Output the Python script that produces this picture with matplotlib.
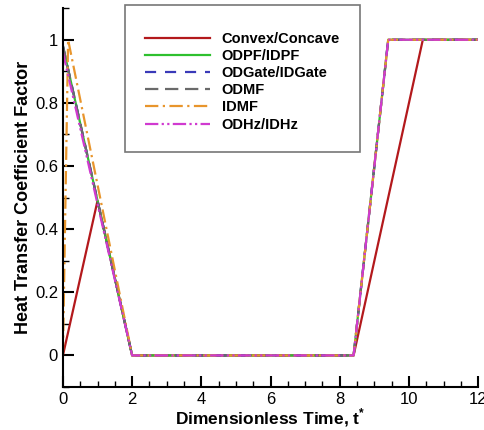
import matplotlib
matplotlib.use("Agg")
import matplotlib.pyplot as plt
from matplotlib.patches import Rectangle
from matplotlib.ticker import MultipleLocator, FormatStrFormatter

plt.rcParams["font.family"] = ["Liberation Sans", "DejaVu Sans"]
plt.rcParams["mathtext.fontset"] = "custom"
plt.rcParams["mathtext.rm"] = "Liberation Sans"
plt.rcParams["mathtext.bf"] = "Liberation Sans:bold"

# series (t*, factor)
t_convex = [0, 1, 2, 8.4, 10.4, 12]
f_convex = [0, 0.49, 0, 0, 1, 1]

t_odpf = [0, 2, 8.4, 9.4, 12]
f_odpf = [0.98, 0, 0, 1, 1]

t_odgate = [0, 2, 8.4, 9.4, 12]
f_odgate = [0.98, 0, 0, 1, 1]

t_odmf = [0, 2, 8.4, 9.4, 12]
f_odmf = [0.98, 0, 0, 1, 1]

t_idmf = [0, 0.15, 2, 8.4, 9.4, 12]
f_idmf = [0, 1, 0, 0, 1, 1]

t_odhz = [0, 2, 8.4, 9.4, 12]
f_odhz = [0.96, 0, 0, 1, 1]

fig = plt.figure(figsize=(4.84, 4.30), dpi=100)
ax = fig.add_axes([0.130, 0.100, 0.858, 0.881])

ax.plot(t_convex, f_convex, color="#b3191c", lw=1.6, ls="-", label="Convex/Concave")
ax.plot(t_odpf, f_odpf, color="#2ec02e", lw=1.6, ls="-", label="ODPF/IDPF")
ax.plot(t_odgate, f_odgate, color="#3a3ab8", lw=1.6, ls=(0, (5, 4)), label="ODGate/IDGate")
ax.plot(t_odmf, f_odmf, color="#6a6a6a", lw=1.6, ls=(0, (6, 3)), label="ODMF")
ax.plot(t_idmf, f_idmf, color="#e8952c", lw=1.6, ls=(0, (6, 2, 1, 2)), label="IDMF")
ax.plot(t_odhz, f_odhz, color="#d03ad0", lw=1.6, ls=(0, (6, 1.5, 1, 1.5, 1, 1.5)), label="ODHz/IDHz")

ax.set_xlim(0, 12)
ax.set_ylim(-0.1, 1.1)
ax.xaxis.set_major_locator(MultipleLocator(2))
ax.xaxis.set_minor_locator(MultipleLocator(0.5))
ax.yaxis.set_major_locator(MultipleLocator(0.2))
ax.yaxis.set_minor_locator(MultipleLocator(0.1))
ax.yaxis.set_major_formatter(FormatStrFormatter("%g"))

for side in ["top", "right"]:
    ax.spines[side].set_visible(False)
for side in ["left", "bottom"]:
    ax.spines[side].set_linewidth(1.5)

ax.tick_params(which="major", direction="in", length=8, width=1.5, labelsize=12,
               top=False, right=False)
ax.tick_params(which="minor", direction="in", length=4, width=1,
               top=False, right=False)

ax.set_xlabel(r"Dimensionless Time, $\mathbf{t}^{\mathbf{*}}$", fontsize=12.5,
              fontweight="bold", labelpad=0)
ax.set_ylabel("Heat Transfer Coefficient Factor", fontsize=13, fontweight="bold", labelpad=2)

# legend box drawn separately (Tecplot style frame)
ax.add_patch(Rectangle((125 / 484, 1 - 152 / 430), 235 / 484, 147 / 430,
                       transform=fig.transFigure, facecolor="white",
                       edgecolor="#777777", lw=1.2, zorder=4, clip_on=False))
leg = ax.legend(loc="upper left", bbox_to_anchor=(0.198, 0.938),
                prop={"weight": "bold", "size": 10.5}, handlelength=4.45,
                handletextpad=0.8, labelspacing=0.22, borderpad=0,
                borderaxespad=0, frameon=False)
leg.set_zorder(5)

fig.savefig("out.png", dpi=100)
